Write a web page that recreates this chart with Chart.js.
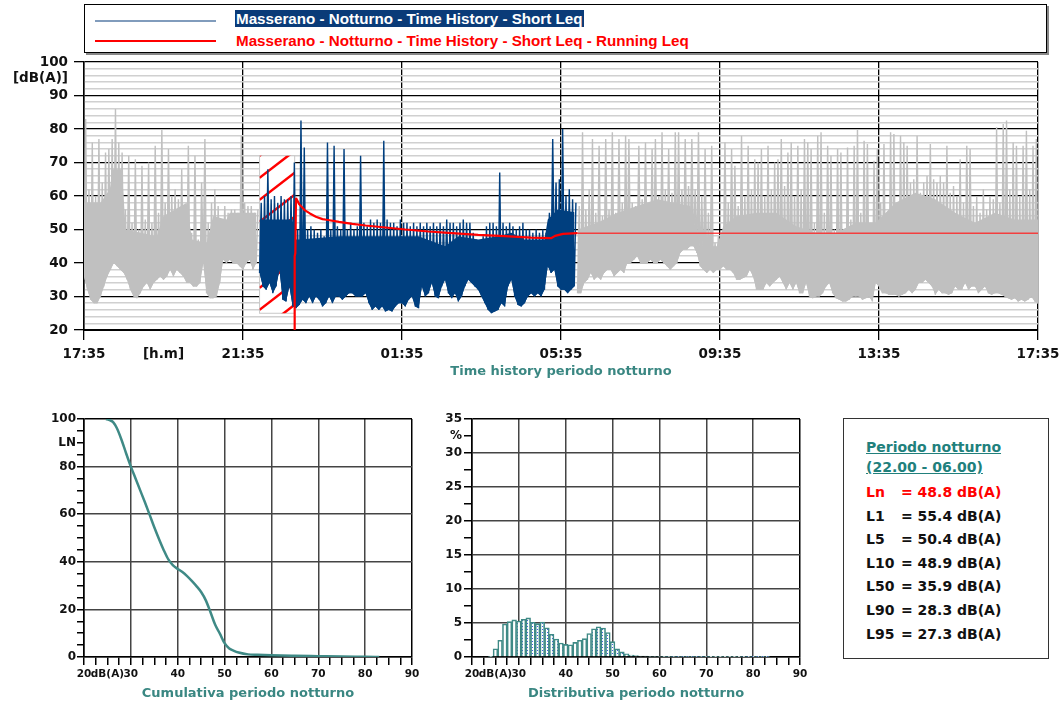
<!DOCTYPE html>
<html>
<head>
<meta charset="utf-8">
<script src="https://cdn.jsdelivr.net/npm/chart.js@4.4.0/dist/chart.umd.min.js"></script>
<style>
body { margin:0; background:#fff; width:1059px; height:702px; position:relative; overflow:hidden; font-family:'DejaVu Sans', Verdana, sans-serif; }
canvas { position:absolute; }
#legend { position:absolute; left:84px; top:4px; width:961px; height:47px; border:1px solid #000; box-shadow:2px 2px 0 #888;
  font-family:'Liberation Sans Narrow','Arial Narrow','Liberation Sans',sans-serif; font-weight:bold; font-size:15.2px; }
.lg-line { position:absolute; left:10px; width:121px; height:2px; }
.lg-text { position:absolute; left:150px; white-space:nowrap; line-height:17px; padding:0 1px; }
#stats { position:absolute; left:843px; top:418px; width:204px; height:239px; border:1px solid #333; font-weight:bold; font-size:14px; }
#stats div { position:absolute; white-space:nowrap; line-height:20px; }
.st-title { left:22px; color:#21807c; text-decoration:underline; }
</style>
</head>
<body>
<div id="legend">
  <div class="lg-line" style="top:15px; background:#819cbc"></div>
  <div class="lg-text" style="top:5px; background:#0a3b78; color:#fff">Masserano - Notturno - Time History - Short Leq</div>
  <div class="lg-line" style="top:35px; background:#ff0000"></div>
  <div class="lg-text" style="top:27px; color:#ff0000">Masserano - Notturno - Time History - Short Leq - Running Leq</div>
</div>
<canvas id="th" width="1059" height="330" style="left:0; top:55px"></canvas>
<canvas id="cum" width="430" height="302" style="left:0; top:400px"></canvas>
<canvas id="dist" width="400" height="302" style="left:430px; top:400px"></canvas>
<div id="stats"></div>
<script>
// time history, 5 minute slots: lowest and highest level in each slot [dB(A)]
const slotMinutes = 5;
const eveStart = '17:35';
const nightStart = '22:00';
const dayStart = '06:00';

const eveHi = [83, 62, 76, 60, 77, 64, 73, 74, 77, 86, 76, 73, 56, 72, 52, 71, 50, 69, 53, 70,
  52, 75, 55, 80, 58, 74, 60, 62, 59, 68, 57, 75, 49, 72, 47, 64, 77, 52, 58, 62,
  57, 52, 57, 55, 56, 56, 55, 78, 58, 57, 57, 55, 56];
const eveLo = [36, 32, 29, 28, 28, 30, 33, 36, 38, 40, 39, 38, 37, 35, 32, 30, 29.5, 31, 33, 34,
  32, 34, 35, 36, 35, 36, 38, 36, 38, 37, 36, 34, 34, 33, 33, 34, 40, 31, 29.5, 29.5,
  30, 34, 41, 40, 41, 40, 40, 39, 38, 40, 41, 38, 40];

const nightHi = [58, 60, 68, 59, 60, 58, 60, 59, 59, 60,
  70, 50, 82.5, 74.5, 50, 51, 50, 49, 50, 48,
  76, 50, 75, 51, 50, 74, 50, 52, 50, 51,
  72, 52, 51, 53, 52, 53, 52, 76.5, 53, 52,
  52, 51, 53, 52, 52, 51, 52, 51, 52, 51,
  52, 51, 52, 51, 52, 51, 53, 52, 52, 51,
  52, 53, 52, 52, 49, 47, 46, 48, 51, 52,
  52, 51, 67, 52, 51, 52, 51, 50, 51, 52,
  50, 50, 49, 50, 49, 50, 49, 55, 77, 64,
  65, 80, 60, 62, 59, 58];
const nightLo = [37, 33, 32, 34, 31, 33, 38, 29, 28.5, 33,
  27, 26.5, 27.5, 29, 28, 30, 28, 30, 29, 27,
  28, 30, 28, 30, 30, 29, 30, 31, 31, 30,
  30, 30, 31, 28, 26, 27, 26, 27, 25.5, 26,
  25.5, 27, 28, 28, 27, 29, 30, 27, 26.5, 33,
  30, 31, 34, 30, 29.5, 33, 35, 31, 29.5, 31,
  28.5, 30, 33, 35, 34, 33, 32, 30, 28, 26,
  25, 25.5, 26, 28, 27, 33, 35, 30, 27.5, 27,
  28, 30, 31, 30, 31, 30, 32, 39, 37, 38,
  33, 32, 32, 31, 32, 33];

const dayHi = [57, 79, 56, 62, 77, 55, 75, 54, 77, 56,
  79, 55, 77, 58, 78, 77, 58, 57, 75, 59,
  76, 56, 74, 77, 60, 79, 62, 74, 61, 79,
  79, 62, 77, 63, 77, 62, 79, 60, 74, 55,
  75, 46, 48, 46, 76, 58, 74, 69, 57, 78,
  60, 75, 62, 71, 70, 74, 60, 75, 62, 70,
  71, 77, 63, 73, 76, 60, 75, 62, 77, 76,
  74, 52, 78, 79, 55, 75, 72, 50, 74, 73,
  50, 74.5, 53, 75, 80, 55, 76.5, 75.5, 52, 70.5,
  74, 58, 75.5, 54, 79, 78.5, 56, 78, 76, 75,
  64, 65, 78, 61, 64, 66, 75.5, 65, 64, 66,
  64, 75, 61, 63, 60, 71, 58, 75, 74, 57,
  60, 55, 62, 56, 60, 59, 80.5, 58, 81.5, 82.5,
  62, 76, 75, 60, 75, 79.5, 62, 75, 77, 70];
const dayLo = [31, 31, 34, 35, 37, 35, 36, 35, 37, 38,
  38, 36, 37, 38, 37, 40, 40, 41, 42, 40,
  40, 40, 41, 40, 40, 41, 40, 39, 38, 39,
  40, 43, 44, 44, 45, 45, 43, 39, 38, 37,
  38, 37, 38, 38, 39, 38, 38, 37, 35, 35,
  35.5, 36, 38, 36, 32, 32, 32, 34, 33, 34,
  35, 36, 34, 32, 34, 32, 34, 31, 31, 34,
  30, 29.5, 30, 30, 31, 33, 34, 31, 29.5, 29,
  28.5, 28.5, 29, 30, 30, 30, 29, 29.5, 30, 28.5,
  34, 33, 31, 31, 30.5, 30.5, 30.5, 30, 30.5, 31,
  32, 31, 32, 34, 34, 35, 34, 33, 30.5, 32,
  31, 31, 30.5, 31, 33, 32, 32, 34, 32, 33,
  33, 31, 32, 33, 31, 30.5, 31, 31, 30.5, 30,
  29.5, 29, 29.5, 28.5, 29, 28.5, 29, 30, 28.5, 28];

// upper edge of the dense part of the trace [dB(A)]
const eveCoreTimes = ['17:35', '18:00', '18:14', '18:18', '18:32', '18:38', '19:25', '19:35', '20:10', '20:18',
  '20:40', '20:50', '21:10', '21:15', '22:00'];
const eveCore = [58, 58, 62, 68, 68, 50, 48, 54, 58, 47, 46, 54, 53, 55, 55];
const nightCoreTimes = ['22:00', '22:50', '22:53', '23:00', '00:00', '01:00', '02:00', '02:40', '03:00', '03:30',
  '04:00', '04:20', '04:40', '05:10', '05:15', '05:30', '06:00'];
const nightCore = [53, 53, 47, 47, 48, 48, 48, 45, 48, 47, 48, 49, 47, 47, 53, 56, 55];
const dayCoreTimes = ['06:00', '06:30', '07:00', '07:30', '08:00', '08:50', '09:00', '09:30', '09:40', '10:00',
  '10:30', '11:00', '11:30', '12:00', '12:30', '13:00', '13:30', '14:00', '14:30', '15:00',
  '15:30', '16:00', '16:30', '17:00', '17:35'];
const dayCore = [50, 52, 55, 57, 59, 57, 45, 45, 51, 54, 55, 55, 51, 49, 49, 52, 52, 58, 61, 59,
  55, 52, 55, 53, 53];

// running Leq
const runNightTimes = ['22:53', '22:53', '22:54', '22:55', '23:00', '23:08', '23:16', '23:25', '23:35', '23:41',
  '00:00', '00:20', '00:40', '01:10', '01:40', '02:15', '02:45', '03:30', '04:10', '04:50',
  '05:20', '05:26', '05:38', '06:00'];
const runNightLeq = [20, 42, 43, 59.4, 57.5, 55.8, 54.8, 53.8, 53.1, 52.9,
  52.3, 51.7, 51.2, 50.6, 50, 49.4, 49, 48.4, 48, 47.6,
  47.4, 48.1, 48.7, 48.9];
const runDayTimes = ['06:00', '17:35'];
const runDayLeq = [48.9, 48.9];

// masked interval
const maskFrom = '22:00';
const maskTo = '22:53';
const maskLo = 25;
const maskHi = 72;

// cumulative distribution
const cumLevels = [24.7, 25.5, 26.3, 27, 28, 29, 30, 31, 32, 33, 34, 35, 36, 37, 38, 39, 40, 41, 42, 43,
  44, 45, 46, 47, 48, 49, 50, 51, 52, 53, 55, 57, 60, 65, 70, 75, 80, 83];
const cumPercent = [100, 99.5, 98.5, 96.2, 91.3, 85.5, 80, 75, 70, 65, 59.8, 54.5, 49.6, 45, 41, 38.5, 37, 35.7, 34, 32,
  29.8, 27.3, 23.8, 18.8, 13.5, 9.8, 5.8, 3.6, 2.6, 1.9, 1.1, 0.9, 0.7, 0.5, 0.35, 0.2, 0.08, 0];

// distribution, 1 dB classes
const distLevels = [24, 25, 26, 27, 28, 29, 30, 31, 32, 33, 34, 35, 36, 37, 38, 39, 40, 41, 42, 43,
  44, 45, 46, 47, 48, 49, 50, 51, 52, 53, 54, 55, 56, 57, 58, 59, 60, 61, 62, 63,
  64, 65, 66, 67, 68, 69, 70, 71, 72, 73, 74, 75, 76, 77, 78, 79, 80, 81, 82, 83];
const distPercent = [0.05, 1.2, 2.45, 4.85, 5.2, 5.45, 5.3, 5.55, 5.75, 5.1, 4.9, 5.15, 4.3, 3.35, 2.65, 2.05, 1.85, 1.8, 2.15, 2.45,
  2.7, 3.45, 4.15, 4.45, 4.25, 3.6, 2.25, 1.2, 0.75, 0.45, 0.3, 0.2, 0.15, 0.12, 0.1, 0.1, 0.08, 0.06, 0.05, 0.05,
  0.04, 0.04, 0.04, 0.03, 0.03, 0.03, 0.03, 0.02, 0.02, 0.02, 0.02, 0.02, 0.02, 0.01, 0.01, 0.01, 0.01, 0.01, 0.01, 0.01];

// statistics
const statLabels = ['Ln', 'L1', 'L5', 'L10', 'L50', 'L90', 'L95'];
const statValues = [48.8, 55.4, 50.4, 48.9, 35.9, 28.3, 27.3];

const teal = '#3a8782';
const clear = 'rgba(0,0,0,0)';

function toMin(t) {
  const [h, m] = t.split(':').map(Number);
  return (h * 60 + m - (17 * 60 + 35) + 1440) % 1440;
}

function fmtTime(v) {
  const t = (17 * 60 + 35 + v) % 1440;
  return String(Math.floor(t / 60)).padStart(2, '0') + ':' + String(t % 60).padStart(2, '0');
}

function zigzag(start, lo, hi) {
  const t0 = toMin(start);
  const pts = [];
  lo.forEach((v, i) => {
    const t = t0 + i * slotMinutes;
    pts.push({ x: t, y: v }, { x: t + slotMinutes / 2, y: hi[i] });
  });
  return pts;
}

function floor(start, lo) {
  const t0 = toMin(start);
  return lo.map((v, i) => ({ x: t0 + i * slotMinutes, y: v }));
}

function timeSeries(times, vals) {
  return times.map((t, i) => {
    let m = toMin(t);
    if (i > 0 && m === 0) m = 1440;
    return { x: m, y: vals[i] };
  });
}

// slot minima, dense part filled down to them, and the min/max trace
function band(start, lo, hi, coreTimes, core, color) {
  return [
    { data: floor(start, lo), borderWidth: 0, borderColor: clear, fill: false, order: 1 },
    { data: timeSeries(coreTimes, core), borderWidth: 0, borderColor: clear, backgroundColor: color, fill: '-1', order: 1 },
    { data: zigzag(start, lo, hi), borderColor: color, backgroundColor: color, borderWidth: 1.4, fill: '-2', order: 1 }
  ];
}

const maskPlugin = {
  id: 'mask',
  beforeDatasetsDraw(chart) {
    const { ctx, scales: { x, y } } = chart;
    const x1 = x.getPixelForValue(toMin(maskFrom));
    const x2 = x.getPixelForValue(toMin(maskTo));
    const y1 = y.getPixelForValue(maskHi);
    const y2 = y.getPixelForValue(maskLo);
    ctx.save();
    ctx.fillStyle = '#fff';
    ctx.fillRect(x1, y1, x2 - x1, y2 - y1);
    ctx.strokeStyle = '#c8c8c8';
    ctx.lineWidth = 1;
    ctx.strokeRect(x1, y1, x2 - x1, y2 - y1);
    ctx.beginPath();
    ctx.rect(x1, y1, x2 - x1, y2 - y1);
    ctx.clip();
    ctx.strokeStyle = '#ff0000';
    ctx.lineWidth = 2.5;
    const rise = (x2 - x1) * 0.77;
    for (let yy = y1 - rise; yy < y2 + rise; yy += 22) {
      ctx.beginPath();
      ctx.moveTo(x1, yy + rise);
      ctx.lineTo(x2, yy);
      ctx.stroke();
    }
    ctx.restore();
  }
};

Chart.defaults.font.family = "'DejaVu Sans', Verdana, sans-serif";
Chart.defaults.font.weight = 'bold';
Chart.defaults.color = '#111';

new Chart(document.getElementById('th'), {
  type: 'line',
  data: {
    datasets: [
      ...band(eveStart, eveLo, eveHi, eveCoreTimes, eveCore, '#c0c0c0'),
      ...band(nightStart, nightLo, nightHi, nightCoreTimes, nightCore, '#003f7f'),
      ...band(dayStart, dayLo, dayHi, dayCoreTimes, dayCore, '#c0c0c0'),
      { data: timeSeries(runNightTimes, runNightLeq), borderColor: '#ff0000', borderWidth: 2.2, order: 0 },
      { data: timeSeries(runDayTimes, runDayLeq), borderColor: 'rgba(255,30,30,0.8)', borderWidth: 1.6, order: 0 }
    ]
  },
  options: {
    responsive: false,
    animation: false,
    elements: { point: { radius: 0 }, line: { tension: 0, borderJoinStyle: 'bevel' } },
    layout: { padding: { top: 7, right: 21, left: 0, bottom: 0 } },
    plugins: { legend: { display: false }, tooltip: { enabled: false }, filler: { propagate: false } },
    scales: {
      x: {
        type: 'linear', min: 0, max: 1440,
        ticks: {
          stepSize: 120, autoSkip: false, maxRotation: 0, padding: 6,
          font: { size: 13.5 },
          callback: v => v % 240 === 0 ? fmtTime(v) : (v === 120 ? '[h.m]' : '')
        },
        grid: {
          color: c => c.tick.value % 240 === 0 ? '#000' : clear,
          tickColor: c => c.tick.value % 240 === 0 ? '#000' : clear,
          lineWidth: 1.3, tickLength: 10
        },
        border: { color: '#000', width: 2 },
        title: { display: true, text: 'Time history periodo notturno', color: teal, font: { size: 13 }, padding: { top: 0, bottom: 6 } },
        afterFit: s => { s.height = 55; s.paddingLeft = 0; s.paddingRight = 0; }
      },
      y: {
        min: 20, max: 100,
        ticks: {
          stepSize: 1, autoSkip: false, padding: 6,
          font: { size: 13.5 },
          callback: v => v % 10 === 0 ? v : (v === 95 ? '[dB(A)]' : '')
        },
        grid: {
          color: c => c.tick.value % 10 === 0 ? '#000' : (c.tick.value % 2 === 0 ? '#d0d0d0' : clear),
          tickColor: c => c.tick.value % 10 === 0 ? '#000' : clear,
          lineWidth: c => c.tick.value % 10 === 0 ? 1.3 : 1.6,
          tickLength: 10
        },
        border: { color: '#000', width: 1.5 },
        afterFit: s => { s.width = 84; s.paddingTop = 0; s.paddingBottom = 0; }
      }
    }
  },
  plugins: [maskPlugin]
});

const xFont = { size: 10.5 };
const yFont = { size: 12 };

new Chart(document.getElementById('cum'), {
  type: 'line',
  data: {
    datasets: [{
      data: cumLevels.map((l, i) => ({ x: l, y: cumPercent[i] })),
      borderColor: '#3f8a86', borderWidth: 2.5, pointRadius: 0, cubicInterpolationMode: 'monotone'
    }]
  },
  options: {
    responsive: false,
    animation: false,
    layout: { padding: { top: 19, right: 18, left: 0, bottom: 0 } },
    plugins: { legend: { display: false }, tooltip: { enabled: false } },
    scales: {
      x: {
        type: 'linear', min: 20, max: 90,
        ticks: {
          stepSize: 2.5, autoSkip: false, maxRotation: 0, padding: 3, font: xFont,
          callback: v => v % 10 === 0 ? v : (v === 25 ? 'dB(A)' : '')
        },
        grid: {
          color: c => (c.tick.value === 20 || c.tick.value === 90) ? '#000' : (c.tick.value % 10 === 0 ? '#444' : clear),
          tickColor: '#000', lineWidth: 1.5, tickLength: 8
        },
        border: { color: '#000', width: 1.5 },
        title: { display: true, text: 'Cumulativa periodo notturno', color: teal, font: { size: 13 }, padding: { top: 0, bottom: 1 } },
        afterFit: s => { s.height = 45; s.paddingLeft = 0; s.paddingRight = 0; }
      },
      y: {
        min: 0, max: 100,
        ticks: {
          stepSize: 5, autoSkip: false, padding: 1, font: yFont,
          callback: v => v % 20 === 0 ? v : (v === 90 ? 'LN' : '')
        },
        grid: {
          color: c => c.tick.value === 100 ? '#000' : (c.tick.value % 20 === 0 ? '#444' : clear),
          tickColor: '#000', lineWidth: 1.5, tickLength: 7
        },
        border: { color: '#000', width: 1.5 },
        afterFit: s => { s.width = 84; s.paddingTop = 0; s.paddingBottom = 0; }
      }
    }
  }
});

const pc = document.createElement('canvas');
pc.width = 5; pc.height = 3;
const pctx = pc.getContext('2d');
pctx.fillStyle = '#fff';
pctx.fillRect(0, 0, 5, 3);
pctx.fillStyle = '#4060e0';
pctx.fillRect(2, 1, 1, 1);
const dots = pctx.createPattern(pc, 'repeat');

new Chart(document.getElementById('dist'), {
  type: 'bar',
  data: {
    datasets: [{
      data: distLevels.map((l, i) => ({ x: l, y: distPercent[i] })),
      backgroundColor: dots, borderColor: '#3f8a86', borderWidth: 1.6,
      barPercentage: 1, categoryPercentage: 1
    }]
  },
  options: {
    responsive: false,
    animation: false,
    layout: { padding: { top: 19, right: 30, left: 0, bottom: 0 } },
    plugins: { legend: { display: false }, tooltip: { enabled: false } },
    scales: {
      x: {
        type: 'linear', min: 20, max: 90, offset: false,
        ticks: {
          stepSize: 2.5, autoSkip: false, maxRotation: 0, padding: 3, font: xFont,
          callback: v => v % 10 === 0 ? v : (v === 25 ? 'dB(A)' : '')
        },
        grid: {
          offset: false,
          color: c => (c.tick.value === 20 || c.tick.value === 90) ? '#000' : (c.tick.value % 10 === 0 ? '#444' : clear),
          tickColor: '#000', lineWidth: 1.5, tickLength: 8
        },
        border: { color: '#000', width: 1.5 },
        title: { display: true, text: 'Distributiva periodo notturno', color: teal, font: { size: 13 }, padding: { top: 0, bottom: 1 } },
        afterFit: s => { s.height = 45; s.paddingLeft = 0; s.paddingRight = 0; }
      },
      y: {
        min: 0, max: 35,
        ticks: {
          stepSize: 2.5, autoSkip: false, padding: 2, font: yFont,
          callback: v => v % 5 === 0 ? v : (v === 32.5 ? '%' : '')
        },
        grid: {
          color: c => c.tick.value === 35 ? '#000' : (c.tick.value % 5 === 0 ? '#444' : clear),
          tickColor: '#000', lineWidth: 1.5, tickLength: 8
        },
        border: { color: '#000', width: 1.5 },
        afterFit: s => { s.width = 42; s.paddingTop = 0; s.paddingBottom = 0; }
      }
    }
  }
});

// statistics box
const stats = document.getElementById('stats');
let html = '<div class="st-title" style="top:18px">Periodo notturno</div>' +
  '<div class="st-title" style="top:38px">(22.00 - 06.00)</div>';
statLabels.forEach((l, i) => {
  const top = 63 + i * 23.6;
  const col = i === 0 ? '#ff0000' : '#111';
  html += '<div style="left:22px; top:' + top + 'px; color:' + col + '">' + l + '</div>' +
    '<div style="left:57px; top:' + top + 'px; color:' + col + '">= ' + statValues[i].toFixed(1) + ' dB(A)</div>';
});
stats.innerHTML = html;
</script>
</body>
</html>
